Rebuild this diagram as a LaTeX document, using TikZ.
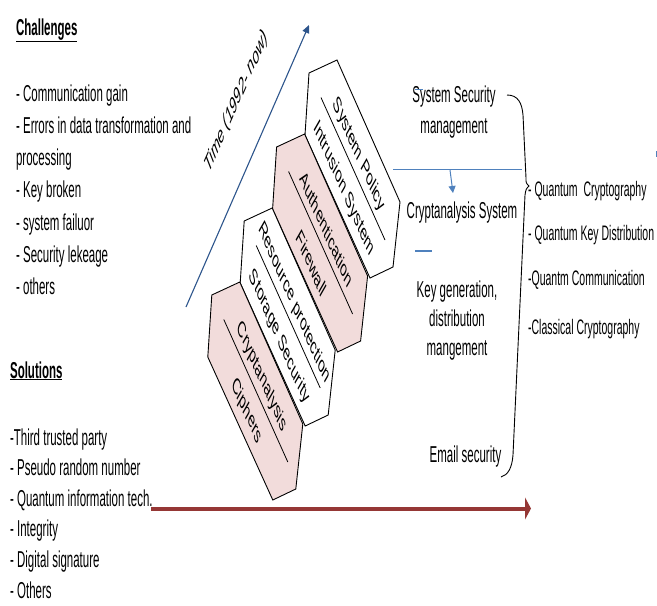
\documentclass[tikz,border=0pt]{standalone}
\usepackage{fontspec}
\setmainfont{Liberation Sans}
\usetikzlibrary{arrows.meta,calc,positioning}
\definecolor{hex-pink}{RGB}{242,220,219}
\definecolor{acc-blue}{RGB}{79,129,189}
\definecolor{dark-blue}{RGB}{45,85,140}
\definecolor{dark-red}{RGB}{149,55,53}
\tikzset{
  squish/.style={xscale=0.5},
  txt/.style={squish, inner sep=0pt, font=\fontsize{23}{30}\selectfont},
  item/.style={txt, anchor=base west},
  small/.style={squish, inner sep=0pt, anchor=base west, font=\fontsize{21}{26}\selectfont},
  hexblock/.style={draw=black, line width=0.9pt},
  blocktext/.style={txt, rotate=-48.8},
}
\begin{document}
\begin{tikzpicture}[x=1pt, y=-1pt]
  \useasboundingbox (0,0) rectangle (657,606);

  % challenges
  \node[item] (chal) at (16,35) {\underline{\textbf{Challenges}}};
  \foreach \t [count=\i] in {- Communication gain, - Errors in data transformation and, processing, - Key broken, - system failuor, - Security lekeage, - others}
    \node[item] (ch\i) at (16, 68.7+32.3*\i) {\t};

  % solutions
  \node[item] (sol) at (10,378) {\underline{\textbf{Solutions}}};
  \foreach \t [count=\i] in {-Third trusted party, - Pseudo random number, - Quantum information tech., - Integrity, - Digital signature, - Others}
    \node[item] (so\i) at (10, 414.4+30.6*\i) {\t};

  % time axis
  \coordinate (t0) at (186,307);
  \coordinate (t1) at (309,25);
  \draw[dark-blue, line width=1.1pt, -{Triangle[length=8pt,width=7pt]}] (t0) -- (t1);
  \node[txt, font=\fontsize{23}{30}\selectfont\itshape, rotate=48.9] (time) at (236.5,102) {Time (1992- now)};

  % staircase of blocks
  \foreach \i/\col/\tup/\tdn in {0/white/System Policy/Intrusion System, 1/hex-pink/Authentication/Firewall, 2/white/Resource protection/Storage Security, 3/hex-pink/Cryptanalysis/Ciphers}{
    \begin{scope}[shift={(309-32.4*\i, 73+74*\i)}]
      \draw[hexblock, fill=\col] (0,0) -- (28,-13) -- (91,129) -- (84,194) -- (61,205) -- (-4,62) -- cycle;
      \draw[line width=0.8pt] (12,24.5) -- (76,167);
      \node[blocktext] (up\i) at (50,82) {\tup};
      \node[blocktext] (dn\i) at (35,116) {\tdn};
    \end{scope}
  }

  % middle column
  \node[txt, align=center, font=\fontsize{23}{31}\selectfont] (mgmt) at (454,112) {System Security\\management};
  \node[txt] (csys) at (462,213) {Cryptanalysis System};
  \node[txt, align=center, font=\fontsize{23}{29}\selectfont] (keyg) at (457,321) {Key generation,\\distribution\\mangement};
  \node[txt] (mail) at (465.5,457) {Email security};

  \coordinate (hl0) at (393,169.5);
  \coordinate (hl1) at (522,169.5);
  \coordinate (ar0) at (450,170);
  \coordinate (ar1) at (453,193);
  \draw[acc-blue, line width=1.3pt] (hl0) -- (hl1);
  \draw[acc-blue, line width=1pt, -{Triangle[length=7pt,width=7pt]}] (ar0) -- (ar1);
  \draw[acc-blue, line width=1.3pt] (415,251) -- (432,251);
  \draw[acc-blue, line width=1pt] (415,89) -- (423,89);
  \draw[acc-blue, line width=1pt] (656,151) -- (656,157);

  % brace
  \draw[line width=0.9pt] (507,95) .. controls (518,95) and (522,103) .. (523,115) -- (526,178)
    .. controls (526,183) .. (529,186) .. controls (526,189) .. (525,195) -- (513,455)
    .. controls (512,468) and (508,475) .. (501,477);

  % right column
  \node[small] (q1) at (528,196) {- Quantum\ \ Cryptography};
  \node[small] (q2) at (528,240) {- Quantum Key Distribution};
  \node[small] (q3) at (528,285) {-Quantm Communication};
  \node[small] (q4) at (528,334) {-Classical Cryptography};

  % progress arrow
  \coordinate (r0) at (151,508.5);
  \coordinate (r1) at (531,508.5);
  \draw[dark-red, line width=4pt, -{Triangle[length=6pt,width=22pt]}] (r0) -- (r1);
\end{tikzpicture}
\end{document}
